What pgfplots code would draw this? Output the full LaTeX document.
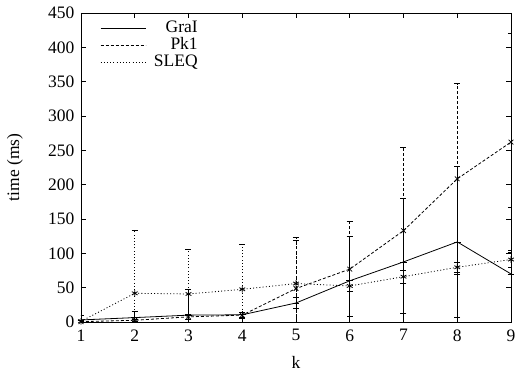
\documentclass[border=0pt]{standalone}
\usepackage{fontspec}
\setmainfont{Liberation Serif}
\usepackage{pgfplots}
\pgfplotsset{compat=1.18}
\usepackage{pgfplotstable}

\newcommand\gfont{\fontsize{17.5bp}{20bp}\selectfont}

% k, mean time (ms), standard deviation
\pgfplotstableread{
k   t      e
1   3.0    7.0
2   6.4    9.0
3   10.0   37.0
4   10.5   4.0
5   27.7   8.0
6   60.0   65.0
7   87.5   92.0
8   116.6  110.0
9   70.0   97.0
}\grai
\pgfplotstableread{
k   t      e
1   0.5    1.0
2   2.5    2.0
3   7.5    3.0
4   10.0   4.0
5   48.7   70.0
6   77.0   69.5
7   133.0  121.0
8   208.5  138.5
9   262.0  158.0
}\pkone
\pgfplotstableread{
k   t      e
1   1.0    2.0
2   41.8   91.0
3   40.8   65.0
4   47.6   65.5
5   56.0   67.0
6   52.5   8.5
7   66.0   9.5
8   79.7   7.0
9   91.0   11.0
}\sleq

\begin{document}
\begin{tikzpicture}
\path[use as bounding box] (-81bp,-54bp) rectangle (435bp,322bp);
\begin{axis}[
  at={(0,0)}, anchor=south west,
  scale only axis, width=430bp, height=309bp,
  font=\gfont,
  /pgf/number format/assume math mode=true,
  xmin=1, xmax=9, ymin=0, ymax=450,
  xtick={1,...,9}, ytick={0,50,...,450},
  tick align=inside, major tick length=5bp,
  tick style={line width=0.6bp, black},
  axis line style={line width=0.8bp},
  xticklabel style={yshift=-4bp},
  yticklabel style={xshift=-3bp},
  xlabel={k}, ylabel={time (ms)},
  every axis x label/.style={at={(rel axis cs:0.5,0)}, anchor=center, yshift=-40bp},
  every axis y label/.style={at={(rel axis cs:0,0.5)}, xshift=-66bp, rotate=90, anchor=center},
  legend cell align=right,
  legend style={draw=none, fill=none, at={(rel axis cs:0,1)}, anchor=north west,
    xshift=16bp, yshift=-5bp, row sep=0bp, font=\gfont,
    nodes={inner sep=0bp, text height=12bp, text depth=5bp},
    /tikz/every odd column/.append style={column sep=8bp}},
  legend image code/.code={\draw[#1] (0bp,0bp) -- (45bp,0bp);},
  error bars/y dir=both, error bars/y explicit,
  error bars/error mark options={rotate=90, mark size=3bp, line width=0.7bp, solid},
]
\addplot[black, solid, line width=0.8bp, mark=+, mark size=3.3bp,
  mark options={solid, line width=0.8bp},
  error bars/error bar style={solid, line width=0.8bp}]
  table[x=k, y=t, y error=e] {\grai};
\addlegendentry{GraI}
\addplot[black, dash pattern=on 3bp off 2bp, line width=0.8bp, mark=x, mark size=3.3bp,
  mark options={solid, line width=0.8bp},
  error bars/error bar style={dash pattern=on 3bp off 2bp, line width=0.8bp}]
  table[x=k, y=t, y error=e] {\pkone};
\addlegendentry{Pk1}
\addplot[black, dash pattern=on 1bp off 2.2bp, line width=0.8bp, mark=asterisk, mark size=3.3bp,
  mark options={solid, line width=0.8bp},
  error bars/error bar style={dash pattern=on 1bp off 2.2bp, line width=0.8bp}]
  table[x=k, y=t, y error=e] {\sleq};
\addlegendentry{SLEQ}
\end{axis}
\end{tikzpicture}
\end{document}
